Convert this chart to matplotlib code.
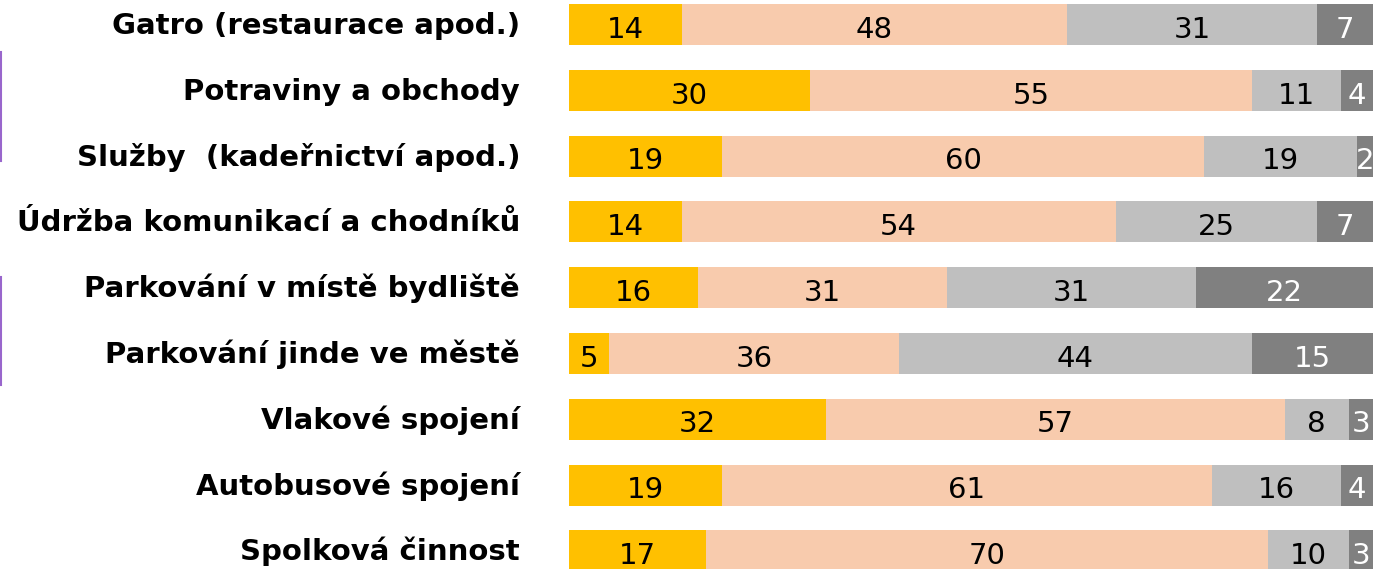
import matplotlib.pyplot as plt
from matplotlib.lines import Line2D

categories = [
    "Gatro (restaurace apod.)",
    "Potraviny a obchody",
    "Služby  (kadeřnictví apod.)",
    "Údržba komunikací a chodníků",
    "Parkování v místě bydliště",
    "Parkování jinde ve městě",
    "Vlakové spojení",
    "Autobusové spojení",
    "Spolková činnost",
]
s1 = [14, 30, 19, 14, 16, 5, 32, 19, 17]
s2 = [48, 55, 60, 54, 31, 36, 57, 61, 70]
s3 = [31, 11, 19, 25, 31, 44, 8, 16, 10]
s4 = [7, 4, 2, 7, 22, 15, 3, 4, 3]

colors = ["#FFC000", "#F8CBAD", "#BFBFBF", "#808080"]
text_colors = ["black", "black", "black", "white"]

W, H = 1397, 569
fig = plt.figure(figsize=(W / 100, H / 100), dpi=100)
ax = fig.add_axes([569 / W, 0, 804 / W, 1])

row_px = 65.8
y0_px = 24.5
ax.set_xlim(0, 100)
ax.set_ylim((H - y0_px) / row_px, -y0_px / row_px)
ax.axis("off")

ys = list(range(len(categories)))
left = [0] * len(categories)
for vals, c, tc in zip([s1, s2, s3, s4], colors, text_colors):
    ax.barh(ys, vals, left=left, height=41 / row_px, color=c, linewidth=0)
    for y, v, l in zip(ys, vals, left):
        ax.text(l + v / 2, y + 13.2 / row_px, str(v), ha="center",
                va="baseline", fontsize=21, color=tc)
    left = [a + b for a, b in zip(left, vals)]

for y, cat in zip(ys, categories):
    ax.text(-6.09, y + 9.5 / row_px, cat, ha="right", va="baseline",
            fontsize=21, fontweight="bold", color="black")

# purple markers at the left edge
for top, bot in [(52, 161), (277, 385)]:
    fig.add_artist(Line2D([1 / W, 1 / W], [1 - top / H, 1 - bot / H],
                          color="#9966CC", linewidth=1.5))

fig.savefig("out.png", dpi=100)
